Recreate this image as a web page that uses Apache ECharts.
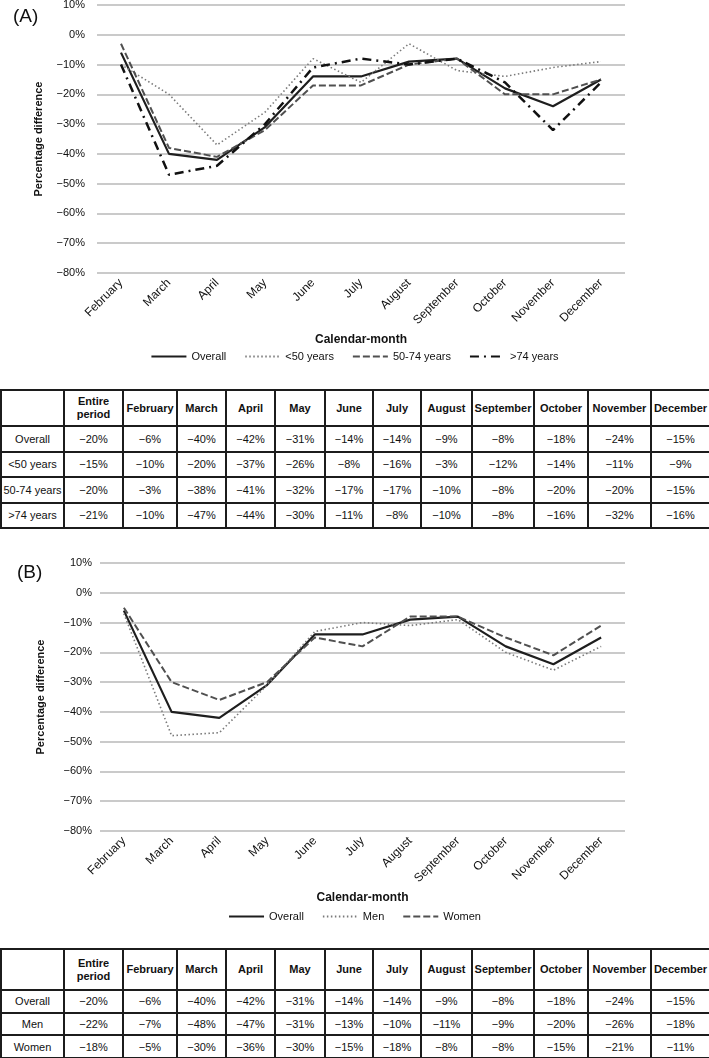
<!DOCTYPE html>
<html>
<head>
<meta charset="utf-8">
<script src="https://cdn.jsdelivr.net/npm/echarts@6/dist/echarts.min.js"></script>
<style>
  body { margin:0; width:709px; height:1058px; position:relative; background:#fff; overflow:hidden;
         font-family:"Liberation Sans", Arial, sans-serif; }
  .chart { position:absolute; left:0; width:709px; }
  table { position:absolute; left:0; width:709px; border-collapse:collapse; table-layout:fixed;
          font-size:11px; color:#111; }
  td, th { border:2px solid #1c1c1c; text-align:center; padding:0; }
  th { font-weight:bold; line-height:13px; }
</style>
</head>
<body>
<div id="chartA" class="chart" style="top:0;height:380px"></div>
<table id="tableA" style="top:389px"></table>
<div id="chartB" class="chart" style="top:540px;height:400px"></div>
<table id="tableB" style="top:948px"></table>

<script>
// categories
var months = ['February', 'March', 'April', 'May', 'June', 'July', 'August',
  'September', 'October', 'November', 'December'];
var yTicks = [10, 0, -10, -20, -30, -40, -50, -60, -70, -80];

// (A) age groups
var groupsA = ['Overall', '<50 years', '50-74 years', '>74 years'];
var entireA = [-20, -15, -20, -21];
var overall = [-6, -40, -42, -31, -14, -14, -9, -8, -18, -24, -15];
var under50 = [-10, -20, -37, -26, -8, -16, -3, -12, -14, -11, -9];
var age50to74 = [-3, -38, -41, -32, -17, -17, -10, -8, -20, -20, -15];
var over74 = [-10, -47, -44, -30, -11, -8, -10, -8, -16, -32, -16];

// (B) sex
var groupsB = ['Overall', 'Men', 'Women'];
var entireB = [-20, -22, -18];
var men = [-7, -48, -47, -31, -13, -10, -11, -9, -20, -26, -18];
var women = [-5, -30, -36, -30, -15, -18, -8, -8, -15, -21, -11];

var colWidths = [63, 59, 54, 49, 49, 50, 48, 48, 51, 62, 54, 63, 59];

function pct(v) {
  return (v < 0 ? '\u2212' + (-v) : v) + '%';
}

// line looks
var solid = { type: 'solid', width: 2.2, color: '#1e1e1e' };
var dotted = { type: [1.5, 2.5], width: 1.6, color: '#7a7a7a' };
var dashed = { type: [7, 3], width: 2, color: '#505050' };
var dashDot = { type: [9, 5, 2, 5], width: 2.5, color: '#111' };

function line(name, data, style) {
  return {
    name: name, type: 'line', data: data, symbol: 'none', lineStyle: style,
    itemStyle: { color: style.color }, silent: true
  };
}

function makeOption(label, gridTop, gridLeft, labelMargin, nameGap, series, legendTop, labelLeft, labelTop) {
  return {
    animation: false,
    textStyle: { fontFamily: 'Liberation Sans, Arial, sans-serif' },
    title: {
      text: label, left: labelLeft, top: labelTop, padding: 0,
      textStyle: { fontSize: 19, fontWeight: 'normal', color: '#111' }
    },
    grid: { left: gridLeft, top: gridTop, width: 625 - gridLeft, height: 268, outerBoundsMode: 'none' },
    legend: {
      top: legendTop, left: 'center', itemWidth: 35, itemHeight: 10, itemGap: 18,
      itemStyle: { opacity: 0 },   // keep only the line sample
      textStyle: { fontSize: 11, color: '#111' },
      data: series.map(function (s) { return s.name; })
    },
    xAxis: {
      type: 'category', data: months, boundaryGap: true,
      axisLine: { show: false }, axisTick: { show: false },
      axisLabel: { rotate: 45, fontSize: 12, color: '#111', margin: 8, interval: 0 },
      name: 'Calendar-month', nameLocation: 'middle', nameGap: 52,
      nameTextStyle: { fontWeight: 'bold', fontSize: 12, color: '#111' }
    },
    yAxis: {
      type: 'value', min: yTicks[yTicks.length - 1], max: yTicks[0], interval: 10,
      axisLine: { show: false }, axisTick: { show: false },
      axisLabel: { fontSize: 11, color: '#111', margin: labelMargin, formatter: pct },
      splitLine: { lineStyle: { color: '#b8b8b8', width: 1.5 } },
      name: 'Percentage difference', nameLocation: 'middle', nameGap: nameGap,
      nameTextStyle: { fontWeight: 'bold', fontSize: 11, color: '#111' }
    },
    series: series
  };
}

var chartA = echarts.init(document.getElementById('chartA'));
chartA.setOption(makeOption('(A)', 5, 97, 12, 53, [
  line('Overall', overall, solid),
  line('<50 years', under50, dotted),
  line('50-74 years', age50to74, dashed),
  line('>74 years', over74, dashDot)
], 346, 13, 7));

var chartB = echarts.init(document.getElementById('chartB'));
chartB.setOption(makeOption('(B)', 23, 100, 8, 54, [
  line('Overall', overall, solid),
  line('Men', men, dotted),
  line('Women', women, dashed)
], 366, 17, 23));

// tables under each chart
function buildTable(id, groups, entire, rows, headH, rowH) {
  var t = document.getElementById(id);
  var html = '<colgroup>' + colWidths.map(function (w) { return '<col style="width:' + w + 'px">'; }).join('') + '</colgroup>';
  html += '<tr style="height:' + headH + 'px"><th></th><th>Entire<br>period</th>' +
    months.map(function (m) { return '<th>' + m + '</th>'; }).join('') + '</tr>';
  groups.forEach(function (g, i) {
    html += '<tr style="height:' + rowH + 'px"><td>' + g.replace('<', '&lt;').replace('>', '&gt;') + '</td><td>' + pct(entire[i]) + '</td>' +
      rows[i].map(function (v) { return '<td>' + pct(v) + '</td>'; }).join('') + '</tr>';
  });
  t.innerHTML = html;
}
buildTable('tableA', groupsA, entireA, [overall, under50, age50to74, over74], 36, 25.5);
buildTable('tableB', groupsB, entireB, [overall, men, women], 41, 22.7);
</script>
</body>
</html>
